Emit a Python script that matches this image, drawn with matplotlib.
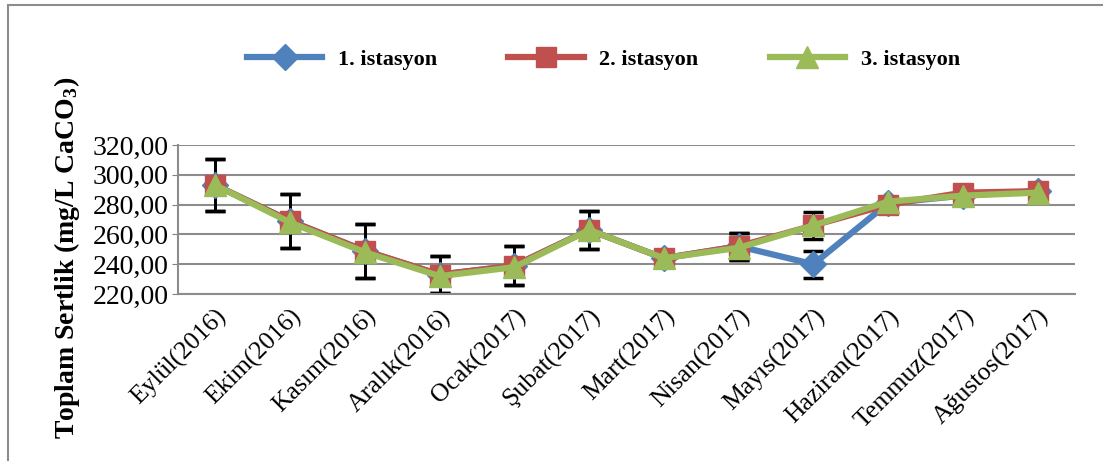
import numpy as np
import matplotlib.pyplot as plt
from matplotlib.patches import Rectangle

months = ['Eylül(2016)', 'Ekim(2016)', 'Kasım(2016)', 'Aralık(2016)', 'Ocak(2017)',
          'Şubat(2017)', 'Mart(2017)', 'Nisan(2017)', 'Mayıs(2017)', 'Haziran(2017)',
          'Temmuz(2017)', 'Ağustos(2017)']

st1 = [293, 269, 249, 233, 239, 263, 244, 252, 240, 281, 286, 289]
st2 = [293, 269, 249, 233, 239, 263, 244, 252, 266, 280, 288, 289]
st3 = [293, 268, 248, 232, 238, 263, 244, 251, 266, 282, 286, 288]

err1 = [17.5, 18, 18, 12.5, 13, 13, 0, 9, 9, 0, 0, 0]
err2 = [17.5, 18, 18, 12.5, 13, 13, 0, 9, 9, 0, 0, 0]

yticks = [220, 240, 260, 280, 300, 320]

plt.rcParams['font.family'] = 'Liberation Serif'
plt.rcParams['mathtext.fontset'] = 'custom'
plt.rcParams['mathtext.rm'] = 'Liberation Serif:bold'
plt.rcParams['mathtext.it'] = 'Liberation Serif:bold'
plt.rcParams['mathtext.bf'] = 'Liberation Serif:bold'

fig = plt.figure(figsize=(11.03, 4.61), dpi=100)
ax = fig.add_axes([0.1614, 0.3623, 0.8132, 0.3232])

x = np.arange(len(months))

ax.errorbar(x, st1, yerr=err1, fmt='none', ecolor='black', elinewidth=2, capsize=7, capthick=2.5, zorder=2)
ax.errorbar(x, st2, yerr=err2, fmt='none', ecolor='black', elinewidth=2, capsize=7, capthick=2.5, zorder=2)

ax.plot(x, st1, color='#4F81BD', lw=4.5, marker='D', ms=13, label='1. istasyon', zorder=3)
ax.plot(x, st2, color='#C0504D', lw=4.5, marker='s', ms=15, label='2. istasyon', zorder=4)
ax.plot(x, st3, color='#9BBB59', lw=4.5, marker='^', ms=16, label='3. istasyon', zorder=5)

ax.set_xlim(-0.5, len(months) - 0.5)
ax.set_ylim(220, 320)
ax.set_yticks(yticks)
ax.set_yticklabels([f'{v},00' for v in yticks], fontsize=20)
ax.set_xticks(x)
ax.set_xticklabels(months, fontsize=18.5, rotation=45, ha='right', rotation_mode='anchor')
ax.tick_params(axis='x', length=0, pad=8)
ax.tick_params(axis='y', length=4, color='#808080', pad=3)

ax.grid(axis='y', color='#8c8c8c', lw=1.5)
ax.set_axisbelow(True)
for s in ['top', 'right']:
    ax.spines[s].set_visible(False)
ax.spines['left'].set_color('#8c8c8c')
ax.spines['bottom'].set_color('#8c8c8c')
ax.spines['left'].set_linewidth(1.5)
ax.spines['bottom'].set_linewidth(1.5)

fig.text(0.061, 0.44, 'Toplam Sertlik (mg/L CaCO$_3$)', rotation=90, fontsize=20,
         fontweight='bold', ha='center', va='center')

fig.legend(loc='center', bbox_to_anchor=(0.547, 0.87), ncol=3, frameon=False,
           prop={'weight': 'bold', 'size': 16}, columnspacing=3.2, handlelength=3.4,
           handletextpad=0.7)

fig.add_artist(Rectangle((0.007, -0.01), 1.0, 1.0, transform=fig.transFigure,
                         fill=False, edgecolor='#8c8c8c', lw=1.5))

fig.savefig('out.png', dpi=100)
